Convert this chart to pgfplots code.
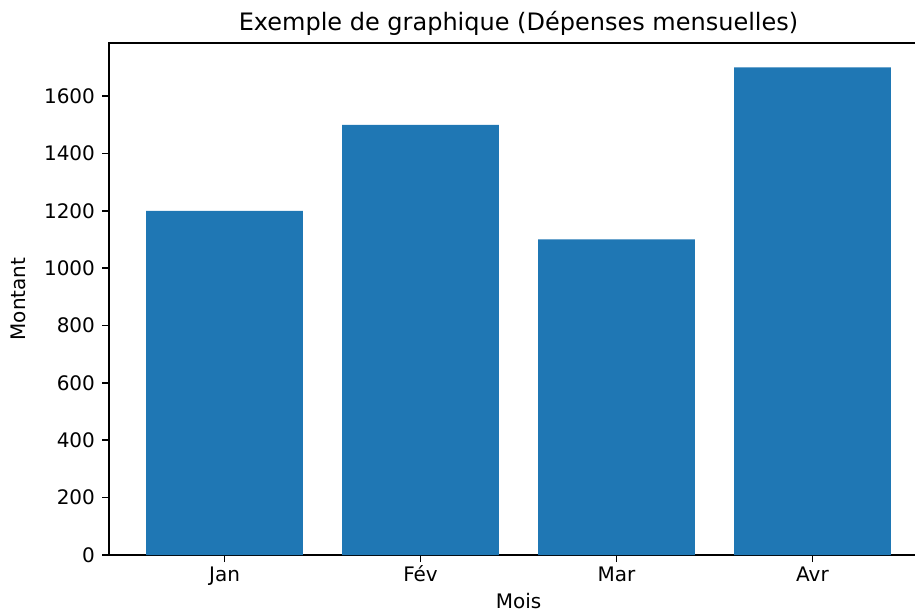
\documentclass[border=0pt]{standalone}
\usepackage{pgfplots}
\pgfplotsset{compat=1.18}
\usepackage{fontspec}
\setmainfont{DejaVu Sans}
\definecolor{mplblue}{HTML}{1F77B4}
\begin{document}
\begin{tikzpicture}
\begin{axis}[
  scale only axis,
  width=409.5pt, height=256pt,
  xmin=-0.59, xmax=3.59,
  ymin=0, ymax=1785,
  xtick={0,1,2,3},
  xticklabels={Jan,Fév,Mar,Avr},
  ytick={0,200,400,600,800,1000,1200,1400,1600},
  tick align=outside,
  tick pos=lower,
  major tick length=3.5pt,
  tick style={black, line width=0.8pt},
  axis line style={line width=0.8pt},
  /pgf/number format/assume math mode=true,
  /pgf/number format/1000 sep={},
  tick label style={font=\fontsize{10}{12}\selectfont},
  xticklabel style={text height=0.78em, yshift=1.4pt},
  xlabel={Mois},
  ylabel={Montant},
  label style={font=\fontsize{10}{12}\selectfont},
  xlabel style={at={(axis description cs:0.5,-0.0742)}, anchor=north, inner sep=0pt},
  ylabel style={at={(axis description cs:-0.093,0.5)}, anchor=south},
  every axis title shift=0pt,
  title={Exemple de graphique (Dépenses mensuelles)},
  title style={font=\fontsize{12}{14}\selectfont, at={(axis description cs:0.5,1.0)}, anchor=south},
  clip=false,
]
\addplot[ybar, bar width=0.8, fill=mplblue, draw=none] coordinates {(0,1200) (1,1500) (2,1100) (3,1700)};
\coordinate (bl) at (rel axis cs:-0.1331,-0.1074);
\coordinate (tr) at (rel axis cs:0.9841,1.084);
\end{axis}
\pgfresetboundingbox
\path[use as bounding box] (bl) rectangle (tr);
\end{tikzpicture}
\end{document}
